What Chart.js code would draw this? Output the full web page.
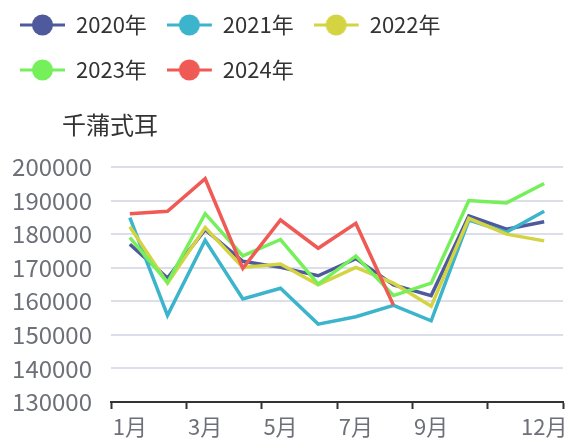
<!DOCTYPE html>
<html>
<head>
<meta charset="utf-8">
<script src="https://cdn.jsdelivr.net/npm/chart.js@4.4.1/dist/chart.umd.min.js"></script>
<style>
  html, body { margin: 0; padding: 0; background: #ffffff; }
  #wrap { width: 569px; height: 439px; position: relative; }
</style>
</head>
<body>
<div id="wrap"><canvas id="c" width="569" height="439"></canvas></div>
<script>
// ---- data ----
const months = ['1月','2月','3月','4月','5月','6月','7月','8月','9月','10月','11月','12月'];
const xTickLabels = ['1月','','3月','','5月','','7月','','9月','','','12月'];
const seriesNames = ['2020年','2021年','2022年','2023年','2024年'];
const y2020 = [177000, 166900, 181300, 171900, 170100, 167600, 172700, 164900, 161700, 185400, 181500, 183700];
const y2021 = [184900, 155800, 178200, 160700, 163900, 153200, 155400, 158800, 154200, 184200, 180600, 186800];
const y2022 = [182200, 165400, 182000, 170100, 171100, 164900, 170100, 165400, 158500, 184700, 180000, 178000];
const y2023 = [179000, 165600, 186100, 173500, 178400, 165100, 173500, 161700, 165400, 190000, 189300, 195100];
const y2024 = [186100, 186800, 196500, 169800, 184200, 175800, 183200, 158800, null, null, null, null];
const yMin = 130000, yMax = 200000, yStep = 10000;
const axisName = '千蒲式耳';

const colors = ['#4e5a9b', '#3cb4cb', '#d4d443', '#75f05b', '#f05a55'];
const seriesData = [y2020, y2021, y2022, y2023, y2024];

const FONT = '"Noto Sans CJK SC", "Noto Sans", sans-serif';

function legendIcon(color) {
  const cv = document.createElement('canvas');
  cv.width = 48; cv.height = 24;
  const g = cv.getContext('2d');
  g.strokeStyle = color;
  g.lineWidth = 3;
  g.beginPath(); g.moveTo(0, 12); g.lineTo(45, 12); g.stroke();
  g.fillStyle = color;
  g.beginPath(); g.arc(22.5, 12, 10.5, 0, Math.PI * 2); g.fill();
  return cv;
}

const datasets = seriesData.map((d, i) => ({
  label: seriesNames[i],
  data: d,
  borderColor: colors[i],
  backgroundColor: colors[i],
  borderWidth: 3.5,
  pointRadius: 0,
  pointHoverRadius: 0,
  tension: 0,
  fill: false,
  order: seriesData.length - i,
  pointStyle: legendIcon(colors[i])
}));

const axisNamePlugin = {
  id: 'axisName',
  afterDraw(chart) {
    const ctx = chart.ctx;
    ctx.save();
    ctx.font = '24px ' + FONT;
    ctx.fillStyle = '#333333';
    ctx.textAlign = 'center';
    ctx.textBaseline = 'middle';
    ctx.fillText(axisName, chart.chartArea.left - 1, chart.chartArea.top - 42);
    ctx.restore();
  }
};

const legendSizePlugin = {
  id: 'legendSize',
  beforeInit(chart) {
    const fit = chart.legend.fit;
    chart.legend.fit = function () {
      fit.bind(chart.legend)();
      this.height = 176;
    };
  }
};

new Chart(document.getElementById('c'), {
  type: 'line',
  data: { labels: months, datasets },
  plugins: [legendSizePlugin, axisNamePlugin],
  options: {
    responsive: false,
    animation: false,
    devicePixelRatio: 1,
    layout: { padding: { top: -9, left: 0, right: 6, bottom: 0 } },
    plugins: {
      tooltip: { enabled: false },
      legend: {
        display: true,
        position: 'top',
        align: 'start',
        labels: {
          usePointStyle: true,
          pointStyleWidth: 42,
          padding: 23,
          color: '#333333',
          font: { size: 22, family: FONT },
          sort: (a, b) => a.datasetIndex - b.datasetIndex
        }
      }
    },
    scales: {
      x: {
        type: 'category',
        offset: true,
        afterFit(scale) { scale.height = 37; scale.paddingLeft = 0; scale.paddingRight = 0; },
        grid: {
          display: true,
          offset: true,
          drawOnChartArea: false,
          drawTicks: true,
          tickLength: 7,
          tickWidth: 2,
          tickColor: (ctx) => (ctx.index === undefined || ctx.index % 2 === 0) ? '#333333' : 'rgba(0,0,0,0)'
        },
        border: { display: true, color: '#333333', width: 2 },
        ticks: {
          autoSkip: false,
          maxRotation: 0,
          padding: 4,
          color: '#6e7079',
          font: { size: 22, family: FONT },
          callback: (v, i) => xTickLabels[i]
        }
      },
      y: {
        min: yMin,
        max: yMax,
        afterFit(scale) { scale.width = 111; scale.paddingTop = 0; scale.paddingBottom = 0; },
        grid: { color: '#dcdfea', lineWidth: 2, drawTicks: false },
        border: { display: false },
        ticks: {
          stepSize: yStep,
          padding: 19,
          color: '#6e7079',
          font: { size: 24, family: FONT },
          callback: (v) => String(v)
        }
      }
    }
  }
});
</script>
</body>
</html>
